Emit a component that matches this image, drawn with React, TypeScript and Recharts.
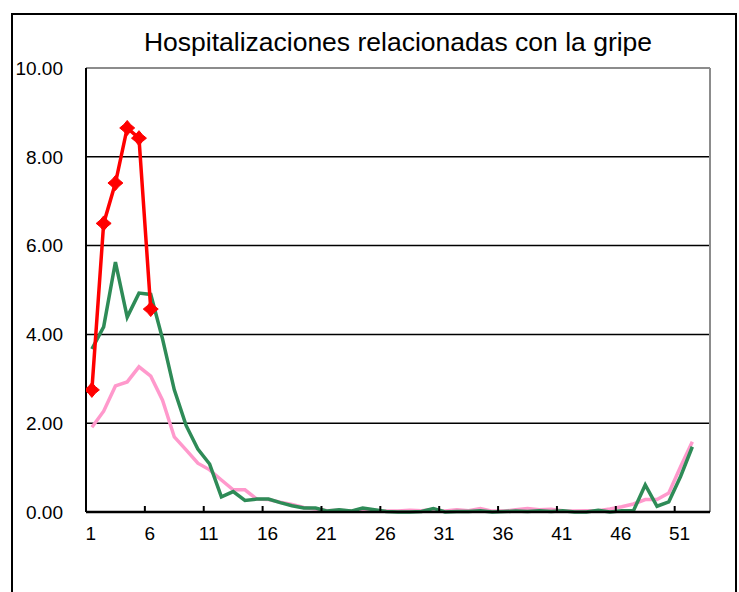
import React from "react";
import { LineChart, Line, XAxis, YAxis, CartesianGrid, ReferenceLine } from "recharts";

const weeks: number[] = Array.from({ length: 53 }, (_, i) => i + 1);
const xTickWeeks = [1, 6, 11, 16, 21, 26, 31, 36, 41, 46, 51];
const yTicks = [0, 2, 4, 6, 8, 10];

const redSeries = [2.75, 6.5, 7.41, 8.65, 8.42, 4.57];
const greenSeries = [
  3.67, 4.17, 5.63, 4.39, 4.93, 4.9, 3.9, 2.75, 1.95, 1.42,
  1.08, 0.34, 0.46, 0.26, 0.29, 0.29, 0.21, 0.14, 0.09, 0.09,
  0.02, 0.05, 0.02, 0.09, 0.05, 0.01, 0, 0, 0.01, 0.08,
  0, 0.01, 0.01, 0.03, 0, 0.01, 0.02, 0.01, 0.03, 0.01,
  0.03, 0, 0, 0.04, 0, 0.03, 0.03, 0.61, 0.13, 0.23,
  0.8, 1.47,
];
const pinkSeries = [
  1.91, 2.27, 2.84, 2.93, 3.27, 3.06, 2.52, 1.69, 1.4, 1.1,
  0.95, 0.72, 0.5, 0.5, 0.29, 0.28, 0.22, 0.17, 0.1, 0.07,
  0.03, 0.04, 0.02, 0.06, 0.03, 0.02, 0.02, 0.04, 0.03, 0.06,
  0.02, 0.05, 0.03, 0.08, 0.02, 0.02, 0.05, 0.08, 0.05, 0.06,
  0.03, 0.02, 0.03, 0.03, 0.07, 0.12, 0.18, 0.28, 0.28, 0.43,
  1.02, 1.58,
];

const data = weeks.map((w, i) => ({
  week: w,
  red: i < redSeries.length ? redSeries[i] : null,
  green: i < greenSeries.length ? greenSeries[i] : null,
  pink: i < pinkSeries.length ? pinkSeries[i] : null,
}));

const W = 739;
const H = 592;
const MARGIN = { top: 68, right: 29, left: 0, bottom: 50 };
const Y_AXIS_W = 86;
const PLOT_W = W - MARGIN.right - Y_AXIS_W;
const HALF_BAND = PLOT_W / weeks.length / 2;

const FONT = "'Liberation Sans', Arial, sans-serif";

const XTick = (props: any) => {
  const { x, y, payload } = props;
  return (
    <g>
      <line x1={x - HALF_BAND} x2={x - HALF_BAND} y1={y} y2={y - 6} stroke="#000" strokeWidth={2} />
      <text
        x={x - 1}
        y={y + 14}
        textAnchor="middle"
        dominantBaseline="hanging"
        fontSize={19}
        fontFamily={FONT}
        fill="#000"
      >
        {payload.value}
      </text>
    </g>
  );
};

const StarDot = (props: any) => {
  const { cx, cy, index } = props;
  if (cx == null || cy == null) return <g key={index} />;
  const R = 7.5;
  const r = 3.4;
  const d = `M ${cx} ${cy - R} L ${cx + r} ${cy - r} L ${cx + R} ${cy} L ${cx + r} ${cy + r} L ${cx} ${cy + R} L ${cx - r} ${cy + r} L ${cx - R} ${cy} L ${cx - r} ${cy - r} Z`;
  return <path key={index} d={d} fill="#FF0000" stroke="#FF0000" strokeWidth={1} />;
};

export default function App() {
  return (
    <div style={{ position: "relative", width: W, height: H, overflow: "hidden", background: "#fff" }}>
      <style>{`body{margin:0;}`}</style>
      <div
        style={{
          position: "absolute",
          left: 11,
          top: 13,
          width: 722,
          height: 700,
          border: "2px solid #000",
          boxSizing: "content-box",
        }}
      />
      <div
        style={{
          position: "absolute",
          left: 86,
          top: 26,
          width: PLOT_W,
          textAlign: "center",
          fontFamily: FONT,
          fontSize: 26.5,
          lineHeight: "32px",
          color: "#000",
          whiteSpace: "nowrap",
        }}
      >
        Hospitalizaciones relacionadas con la gripe
      </div>
      <div style={{ position: "absolute", left: 0, top: 0 }}>
        <LineChart width={W} height={H} data={data} margin={MARGIN}>
          <CartesianGrid horizontal vertical={false} stroke="#000" strokeWidth={1.5} />
          <XAxis
            dataKey="week"
            type="number"
            domain={[0.5, 53.5]}
            ticks={xTickWeeks}
            interval={0}
            height={30}
            tickSize={0}
            tickMargin={0}
            tickLine={false}
            axisLine={{ stroke: "#000", strokeWidth: 2.5 }}
            tick={<XTick />}
            allowDataOverflow
          />
          <YAxis
            type="number"
            domain={[0, 10]}
            ticks={yTicks}
            interval={0}
            width={Y_AXIS_W}
            tickSize={0}
            tickMargin={23}
            tickLine={false}
            axisLine={{ stroke: "#000", strokeWidth: 2 }}
            tickFormatter={(v: number) => v.toFixed(2)}
            tick={{ fill: "#000", fontSize: 19, fontFamily: FONT }}
          />
          <ReferenceLine y={10} stroke="#8c8c8c" strokeWidth={2} />
          <ReferenceLine x={53.5} stroke="#8c8c8c" strokeWidth={2} />
          <Line
            dataKey="pink"
            stroke="#FF99CC"
            strokeWidth={3.5}
            dot={false}
            activeDot={false}
            isAnimationActive={false}
            connectNulls={false}
          />
          <Line
            dataKey="green"
            stroke="#2E8B57"
            strokeWidth={3.5}
            dot={false}
            activeDot={false}
            isAnimationActive={false}
          />
          <Line
            dataKey="red"
            stroke="#FF0000"
            strokeWidth={3.5}
            dot={<StarDot />}
            activeDot={false}
            isAnimationActive={false}
          />
        </LineChart>
      </div>
    </div>
  );
}
